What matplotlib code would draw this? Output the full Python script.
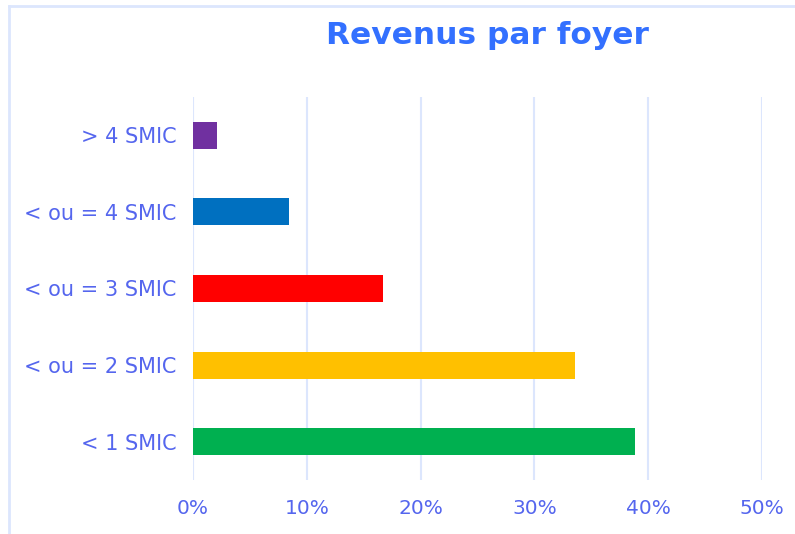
import matplotlib
matplotlib.use("Agg")
import matplotlib.pyplot as plt
from matplotlib.ticker import FuncFormatter, MultipleLocator
from matplotlib.lines import Line2D

categories = ["< 1 SMIC", "< ou = 2 SMIC", "< ou = 3 SMIC", "< ou = 4 SMIC", "> 4 SMIC"]
values = [0.388, 0.336, 0.167, 0.084, 0.021]
colors = ["#00B050", "#FFC000", "#FF0000", "#0070C0", "#7030A0"]
title = "Revenus par foyer"

text_color = "#5566EE"
title_color = "#3370FF"
grid_color = "#DCE6FD"

plt.rcParams['font.family'] = ['DejaVu Sans']

fig = plt.figure(figsize=(7.95, 5.34), dpi=100)
ax = fig.add_axes([193/795, 1-480/534, (762-193)/795, (480-97)/534])

ax.barh(range(len(categories)), values, height=0.35, color=colors, zorder=3)
ax.set_yticks(range(len(categories)))
ax.set_yticklabels(categories)
ax.set_ylim(-0.5, len(categories) - 0.5)
ax.set_xlim(0, 0.5)
ax.xaxis.set_major_locator(MultipleLocator(0.1))
ax.xaxis.set_major_formatter(FuncFormatter(lambda v, p: f"{v*100:.0f}%"))
ax.grid(axis='x', color=grid_color, linewidth=1.5, zorder=0)
for s in ax.spines.values():
    s.set_visible(False)
ax.tick_params(axis='y', length=0, pad=12, labelsize=15, labelcolor=text_color)
ax.tick_params(axis='x', length=0, pad=14, labelsize=14.5, labelcolor=text_color)
for lbl in ax.get_yticklabels():
    lbl.set_va('center_baseline')

fig.text(487/795, 1-35/534, title, ha='center', va='center', fontsize=22.5,
         fontweight='bold', color=title_color)

# outer frame (top and left edges visible)
fig.add_artist(Line2D([9/795, 1], [1-6/534, 1-6/534], transform=fig.transFigure,
                      color=grid_color, linewidth=2))
fig.add_artist(Line2D([9/795, 9/795], [0, 1-6/534], transform=fig.transFigure,
                      color=grid_color, linewidth=2))

fig.savefig("out.png", dpi=100)
